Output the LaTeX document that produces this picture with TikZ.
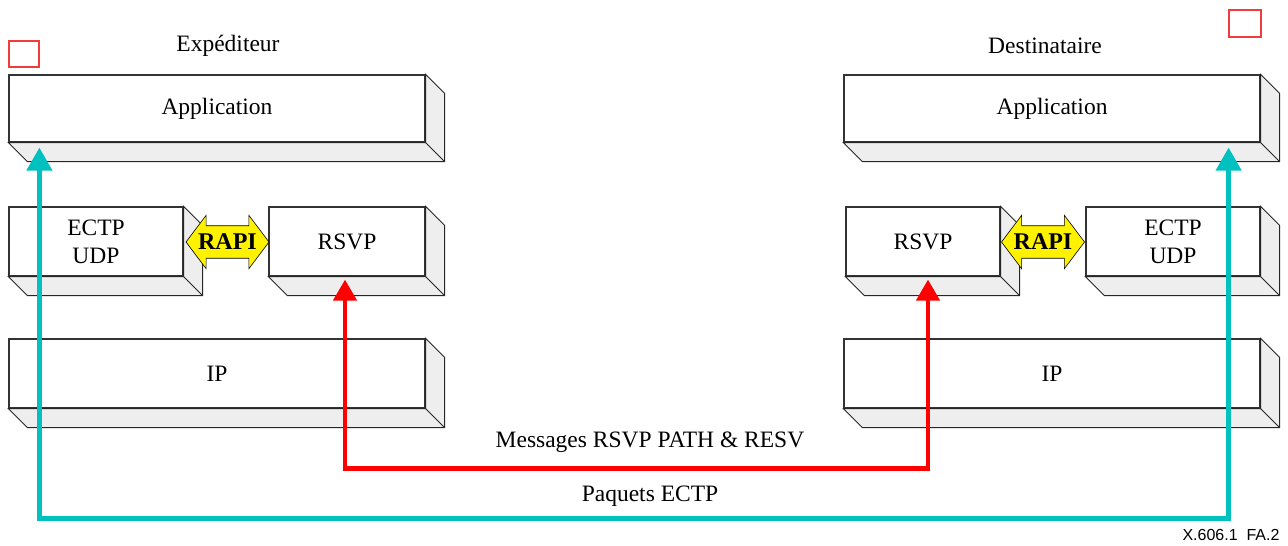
\documentclass[tikz,border=0pt]{standalone}
\usepackage{fontspec}
\setmainfont{Liberation Serif}
\newfontfamily\figfont{Liberation Sans}
\usetikzlibrary{arrows.meta,shapes.arrows}

\definecolor{ectpteal}{RGB}{0,192,192}
\definecolor{rsvpred}{RGB}{255,0,0}
\definecolor{markred}{RGB}{240,60,60}
\definecolor{slabgrey}{RGB}{238,238,238}

% right and bottom faces of a layer box
\newcommand{\slab}[1]{%
  \filldraw[slab_face] (#1.north east) -- ([shift={(19,19)}]#1.north east)
    -- ([shift={(19,19)}]#1.south east) -- ([shift={(19,19)}]#1.south west)
    -- (#1.south west) -- (#1.south east) -- cycle;
  \draw[slab_face] (#1.south east) -- ([shift={(19,19)}]#1.south east);
}

\begin{document}
\begin{tikzpicture}[x=1pt,y=-1pt,font=\fontsize{23.5}{28}\selectfont]
    \tikzstyle{layer_style} = [draw=black!80, line width=1.2, fill=white, inner sep=0pt, minimum height=69pt, align=center]
    \tikzstyle{slab_face} = [draw=black!85, line width=0.9, fill=slabgrey]
    \tikzstyle{rapi_style} = [double arrow, draw=black, line width=0.6, fill=yellow, font=\fontsize{24}{28}\bfseries\selectfont,
        double arrow head extend=10.5pt, double arrow tip angle=106, minimum height=83pt, inner xsep=-7pt, inner ysep=8pt]
    \tikzstyle{ectp_arrow} = [<->, >={Triangle[width=25pt,length=23pt]}, draw=ectpteal, line width=4.5]
    \tikzstyle{rsvp_arrow} = [<->, >={Triangle[width=23pt,length=21pt]}, draw=rsvpred, line width=4.5]
    \tikzstyle{mark_style} = [draw=markred, line width=1.2]

    \useasboundingbox (0,0) rectangle (1288,546);

    \node (sender) at (228,46) {Expéditeur};
    \node (receiver) at (1045,46) {Destinataire};

    \node[layer_style, minimum width=416pt, minimum height=67pt] (appS) at (217,108.5) {Application};
    \node[layer_style, minimum width=416pt, minimum height=67pt] (appD) at (1052,108.5) {Application};
    \node[layer_style, minimum width=174pt] (ectpS) at (96,241.5) {ECTP\\UDP};
    \node[layer_style, minimum width=156pt] (rsvpS) at (347,241.5) {RSVP};
    \node[layer_style, minimum width=154pt] (rsvpD) at (923,241.5) {RSVP};
    \node[layer_style, minimum width=174pt] (ectpD) at (1173,241.5) {ECTP\\UDP};
    \node[layer_style, minimum width=416pt] (ipS) at (217,373.5) {IP};
    \node[layer_style, minimum width=416pt] (ipD) at (1052,373.5) {IP};

    \slab{appS} \slab{appD}
    \slab{ectpS} \slab{rsvpS}
    \slab{rsvpD} \slab{ectpD}
    \slab{ipS} \slab{ipD}

    \node[rapi_style] (rapiS) at (227.5,242) {RAPI};
    \node[rapi_style] (rapiD) at (1043,242) {RAPI};

    \node (msg) at (650,442) {Messages RSVP PATH \& RESV};
    \node (pkt) at (650,496) {Paquets ECTP};

    \draw[rsvp_arrow] ([xshift=-2pt,yshift=-3pt]rsvpS.south) -- ++(0,189) -| ([xshift=5pt,yshift=-3pt]rsvpD.south);
    \draw[ectp_arrow] ([xshift=31pt,yshift=-5pt]appS.south west) -- ++(0,371) -| ([xshift=-32pt,yshift=-5pt]appD.south east);

    \draw[mark_style] (9,41) rectangle (39,67);
    \draw[mark_style] (1229,10) rectangle (1261,37);

    \node[anchor=east, font=\figfont\fontsize{16}{18}\selectfont] (figref) at (1283,535) {X.606.1\ \ FA.2};
\end{tikzpicture}
\end{document}
